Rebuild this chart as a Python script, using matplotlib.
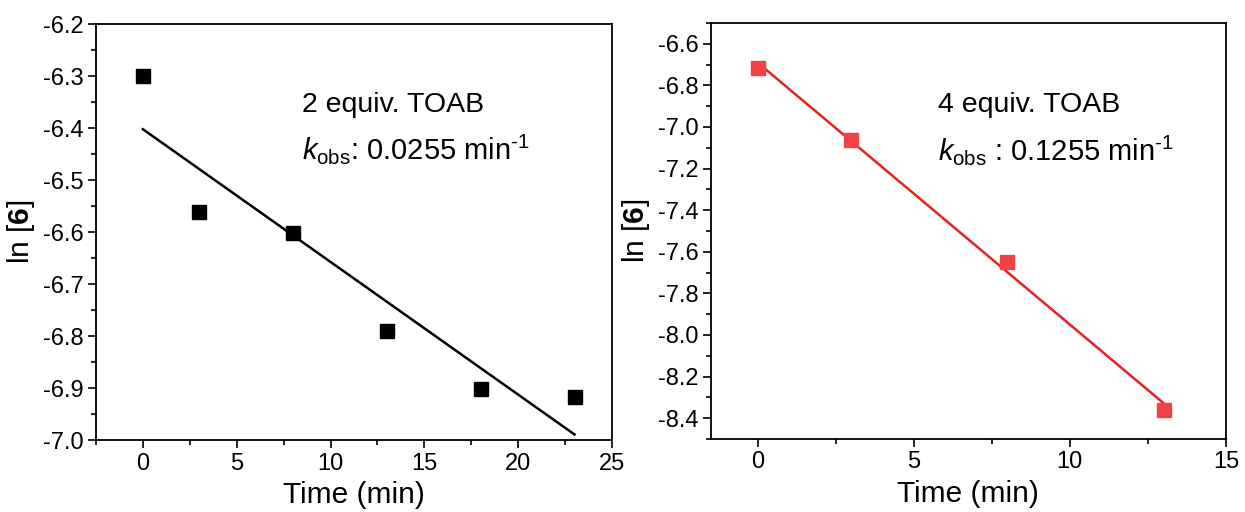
import numpy as np
import matplotlib
matplotlib.use('Agg')
import matplotlib.pyplot as plt
from matplotlib.ticker import MultipleLocator, FormatStrFormatter

plt.rcParams['font.family'] = ['Liberation Sans', 'DejaVu Sans']
plt.rcParams['mathtext.fontset'] = 'custom'
plt.rcParams['mathtext.rm'] = 'Liberation Sans'
plt.rcParams['mathtext.it'] = 'Liberation Sans:italic'
plt.rcParams['mathtext.bf'] = 'Liberation Sans:bold'

# 2 equiv. TOAB
t2 = [0, 3, 8, 13, 18, 23]
ln2 = [-6.30, -6.562, -6.602, -6.79, -6.902, -6.917]
# 4 equiv. TOAB
t4 = [0, 3, 8, 13]
ln4 = [-6.715, -7.062, -7.648, -8.36]

labels = ['2 equiv. TOAB', '4 equiv. TOAB']
kobs = ['$k_{\\mathrm{obs}}$: 0.0255 min$^{\\text{-}1}$',
        '$k_{\\mathrm{obs}}$ : 0.1255 min$^{\\text{-}1}$']

fig = plt.figure(figsize=(12.45, 5.12), dpi=100)
ax1 = fig.add_axes([0.0771, 0.1406, 0.4145, 0.8125])
ax2 = fig.add_axes([0.571, 0.1426, 0.4137, 0.8125])

def style(ax, xmaj, ymaj):
    ax.xaxis.set_major_locator(MultipleLocator(xmaj))
    ax.xaxis.set_minor_locator(MultipleLocator(xmaj / 2))
    ax.yaxis.set_major_locator(MultipleLocator(ymaj))
    ax.yaxis.set_minor_locator(MultipleLocator(ymaj / 2))
    ax.yaxis.set_major_formatter(FormatStrFormatter('%.1f'))
    ax.tick_params(which='major', direction='out', length=6, width=1.2, labelsize=17, pad=3)
    ax.tick_params(which='minor', direction='out', length=3.5, width=1.2)
    for s in ax.spines.values():
        s.set_linewidth(1.3)
    ax.set_xlabel('Time (min)', fontsize=21.5, labelpad=5)
    ax.set_ylabel('ln [$\\mathbf{6}$]', fontsize=21.5, labelpad=4)

# left panel
fit2 = np.polyfit(t2, ln2, 1)
xx = np.array([t2[0], t2[-1]])
ax1.plot(xx, np.polyval(fit2, xx), color='black', lw=1.8)
ax1.plot(t2, ln2, 's', color='black', ms=9.5)
ax1.set_xlim(-2.5, 25)
ax1.set_ylim(-7.0, -6.2)
style(ax1, 5, 0.1)
ax1.text(0.40, 0.805, labels[0], transform=ax1.transAxes, fontsize=20.5, va='center')
ax1.text(0.40, 0.70, kobs[0], transform=ax1.transAxes, fontsize=21, va='center')

# right panel
fit4 = np.polyfit(t4, ln4, 1)
xx = np.array([t4[0], t4[-1]])
ax2.plot(xx, np.polyval(fit4, xx), color='#e8201e', lw=1.8)
ax2.plot(t4, ln4, 's', color='#f04444', ms=9.5)
ax2.set_xlim(-1.5, 15)
ax2.set_ylim(-8.5, -6.5)
style(ax2, 5, 0.2)
ax2.text(0.44, 0.803, labels[1], transform=ax2.transAxes, fontsize=20.5, va='center')
ax2.text(0.44, 0.695, kobs[1], transform=ax2.transAxes, fontsize=21, va='center')

fig.savefig('out.png', dpi=100)
